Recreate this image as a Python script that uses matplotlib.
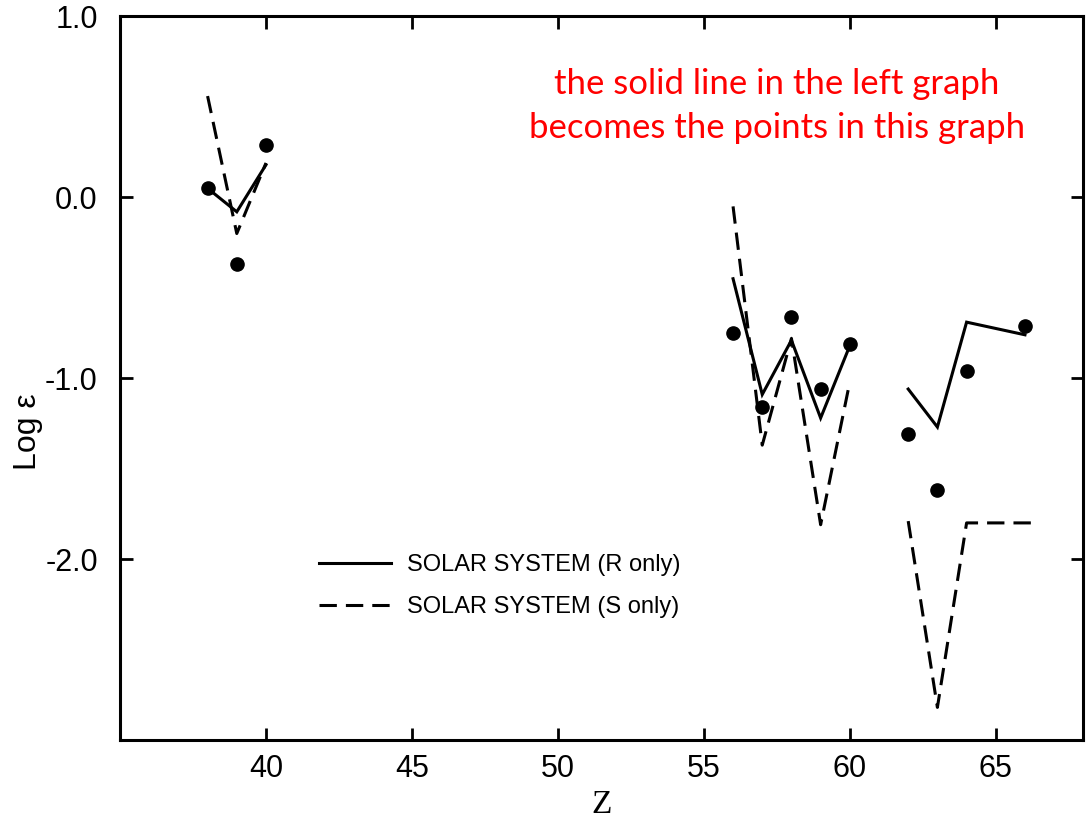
import matplotlib
matplotlib.use("Agg")
import matplotlib.pyplot as plt

plt.rcParams["lines.scale_dashes"] = False
plt.rcParams["axes.unicode_minus"] = False

# Observed abundances (points)
z_obs = [38, 39, 40, 56, 57, 58, 59, 60, 62, 63, 64, 66]
logeps_obs = [0.05, -0.37, 0.29, -0.75, -1.16, -0.66, -1.06, -0.81,
              -1.31, -1.62, -0.96, -0.71]

# Solar system r-process-only curve, drawn in three groups
z_r_groups = [[38, 39, 40], [56, 57, 58, 59, 60], [62, 63, 64, 66]]
logeps_r_groups = [[0.05, -0.08, 0.18],
                   [-0.45, -1.09, -0.79, -1.22, -0.82],
                   [-1.06, -1.27, -0.69, -0.76]]

# Solar system s-process-only curve, drawn in three groups
z_s_groups = [[38, 39, 40], [56, 57, 58, 59, 60], [62, 63, 64, 66.5]]
logeps_s_groups = [[0.56, -0.20, 0.19],
                   [-0.05, -1.37, -0.78, -1.81, -1.02],
                   [-1.79, -2.82, -1.80, -1.80]]

x_ticks = [40, 45, 50, 55, 60, 65]
y_ticks = [1.0, 0.0, -1.0, -2.0]
y_tick_labels = ["1.0", "0.0", "-1.0", "-2.0"]
legend_labels = ["SOLAR SYSTEM (R only)", "SOLAR SYSTEM (S only)"]
note_text = "the solid line in the left graph\nbecomes the points in this graph"

fig = plt.figure(figsize=(10.91, 8.24), dpi=100)
ax = fig.add_axes([0.110, 0.102, 0.883, 0.878])

lw = 2.2
for i, (zs, vs) in enumerate(zip(z_r_groups, logeps_r_groups)):
    ax.plot(zs, vs, color="black", lw=lw, solid_joinstyle="miter",
            label=legend_labels[0] if i == 0 else None)
for i, (zs, vs) in enumerate(zip(z_s_groups, logeps_s_groups)):
    ax.plot(zs, vs, color="black", lw=lw, dashes=(12.5, 6.5),
            label=legend_labels[1] if i == 0 else None)
ax.plot(z_obs, logeps_obs, "o", color="black", markersize=9.5, zorder=5)

ax.set_xlim(35, 68)
ax.set_ylim(-3.0, 1.0)
ax.set_xticks(x_ticks)
ax.set_xticklabels([str(t) for t in x_ticks], fontsize=22,
                   family="Liberation Sans")
ax.set_yticks(y_ticks)
ax.set_yticklabels(y_tick_labels, fontsize=22, family="Liberation Sans")
ax.tick_params(direction="in", length=9, width=2, top=True, right=True)
ax.tick_params(axis="x", pad=10)
ax.tick_params(axis="y", pad=16)

for sp in ax.spines.values():
    sp.set_linewidth(2.2)

ax.set_xlabel("Z", fontsize=24, family="Liberation Serif", labelpad=4)
ax.set_ylabel("Log ε", fontsize=23, family="Liberation Sans")
ax.yaxis.set_label_coords(-0.080, 0.426)

leg = ax.legend(loc="upper left", bbox_to_anchor=(0.184, 0.286),
                frameon=False, handlelength=3.05,
                handletextpad=0.68, labelspacing=0.85,
                prop={"family": "Liberation Sans", "size": 17})

fig.text(0.712, 0.871, note_text, color="red", fontsize=25,
         family="Lato", ha="center", va="center", linespacing=1.45)

fig.savefig("out.png", dpi=100, facecolor="white")
